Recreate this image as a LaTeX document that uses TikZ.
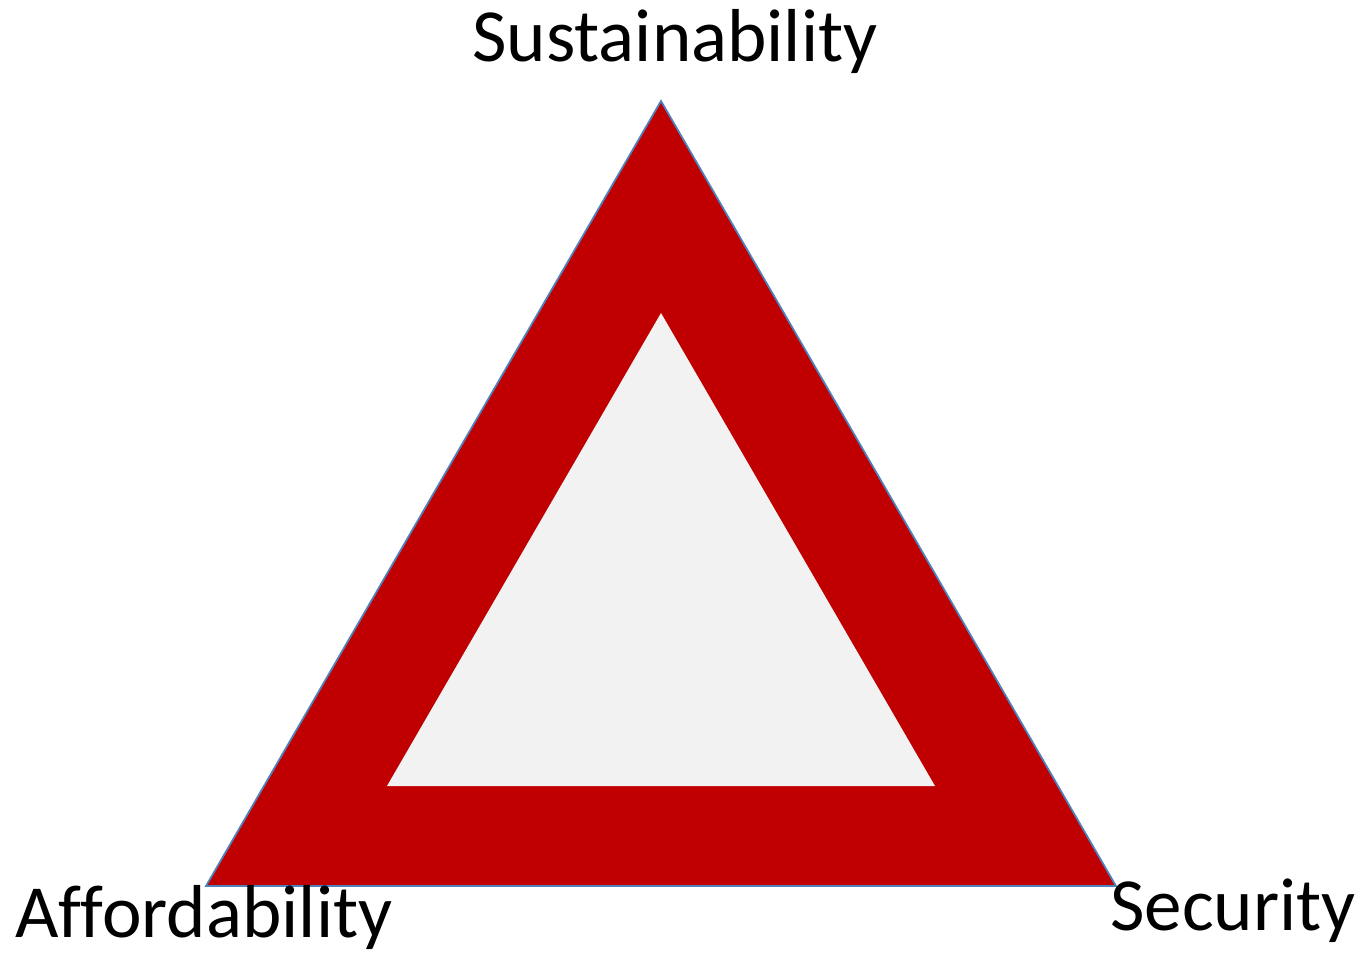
\documentclass[tikz,border=0pt]{standalone}
\usepackage{fontspec}
\setmainfont[Ligatures=NoCommon]{Carlito}
\usetikzlibrary{backgrounds}
\pgfdeclarelayer{edgelayer}
\pgfdeclarelayer{nodelayer}
\pgfsetlayers{edgelayer,nodelayer,main}
\definecolor{trired}{HTML}{C00000}
\definecolor{triblue}{HTML}{4F81BD}
\definecolor{trigray}{HTML}{F2F2F2}
\tikzstyle{none}=[inner sep=0pt]
\tikzstyle{label}=[inner sep=0pt,font=\fontsize{42.7}{50}\selectfont]

\begin{document}
\begin{tikzpicture}[x=0.02cm,y=-0.02cm]
	\useasboundingbox (0,0) rectangle (1360,956);
	\begin{pgfonlayer}{nodelayer}
		\node [style=none] (top) at (661, 101) {};
		\node [style=none] (left) at (206, 886) {};
		\node [style=none] (right) at (1116, 886) {};
		\node [style=none] (itop) at (661, 313) {};
		\node [style=none] (ileft) at (387, 786) {};
		\node [style=none] (iright) at (935, 786) {};
		\node [style=label, anchor=base] (sust) at (675, 62) {Sustainability};
		\node [style=label, anchor=base west] (afford) at (15, 937) {Affordability};
		\node [style=label, anchor=base west] (secur) at (1110, 930) {Security};
	\end{pgfonlayer}
	\begin{pgfonlayer}{edgelayer}
		\draw[fill=trired, draw=triblue, line width=1pt] (top.center) -- (right.center) -- (left.center) -- cycle;
		\fill[trigray] (itop.center) -- (iright.center) -- (ileft.center) -- cycle;
	\end{pgfonlayer}
\end{tikzpicture}
\end{document}
